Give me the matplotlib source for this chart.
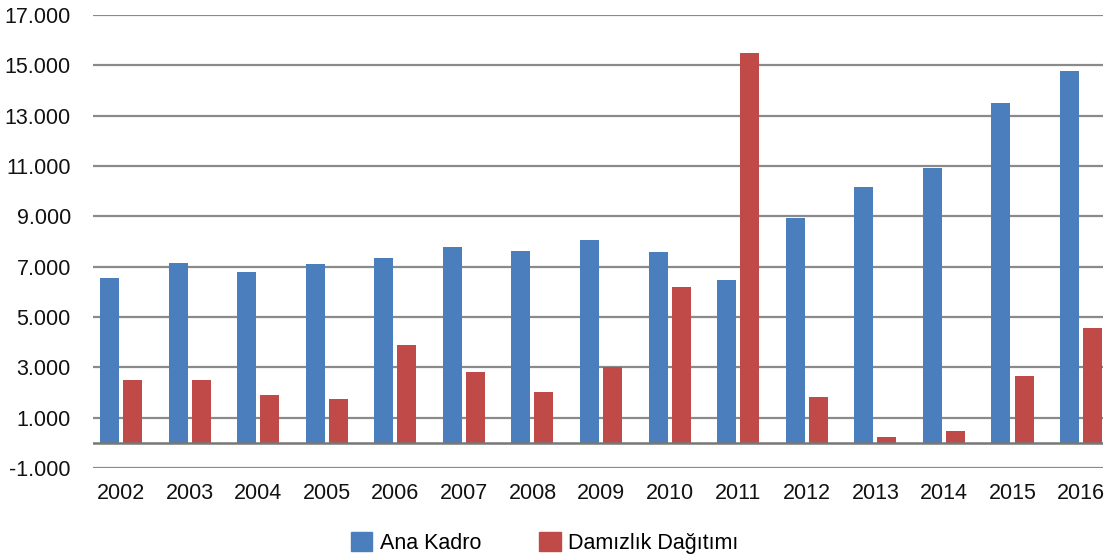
import matplotlib
matplotlib.use("Agg")
import matplotlib.pyplot as plt
import numpy as np
from matplotlib.patches import Patch

years = ["2002", "2003", "2004", "2005", "2006", "2007", "2008", "2009",
         "2010", "2011", "2012", "2013", "2014", "2015", "2016"]
ana_kadro = [6550, 7150, 6800, 7100, 7360, 7800, 7640, 8080,
             7600, 6480, 8950, 10190, 10940, 13490, 14770]
damizlik = [2500, 2500, 1900, 1740, 3890, 2820, 2020, 3020,
            6200, 15490, 1820, 230, 470, 2660, 4570]
yticks = [-1000, 1000, 3000, 5000, 7000, 9000, 11000, 13000, 15000, 17000]
series_names = ["Ana Kadro", "Damızlık Dağıtımı"]

plt.rcParams['font.family'] = ['Liberation Sans', 'DejaVu Sans']

fig = plt.figure(figsize=(11.18, 5.60), dpi=100)
ax = fig.add_axes([0.0832, 0.164, 0.9034, 0.809])

blue = "#4A7EBD"
red = "#BF4A47"
x = np.arange(len(years))
w = 0.277
off = 0.168
ax.bar(x - off, ana_kadro, width=w, color=blue, zorder=3)
ax.bar(x + off, damizlik, width=w, color=red, zorder=3)

ax.set_ylim(-1000, 17000)
ax.set_xlim(-0.408, 14.32)
ax.set_yticks(yticks)
ax.set_yticklabels([f"{v:,}".replace(",", ".") for v in yticks])
ax.set_xticks(x)
ax.set_xticklabels(years)

for v in yticks:
    ax.axhline(v, color="#8a8a8a", lw=1.6, zorder=1)
ax.axhline(0, color="#777777", lw=1.8, zorder=4)

for s in ax.spines.values():
    s.set_visible(False)
ax.tick_params(axis="both", length=0, labelsize=15.5, colors="#111111")
ax.tick_params(axis="y", pad=16)
ax.tick_params(axis="x", pad=11)

handles = [Patch(color=blue), Patch(color=red)]
fig.legend(handles, series_names, loc="center", bbox_to_anchor=(0.487, 0.03),
           ncol=2, frameon=False, fontsize=15.5, handlelength=1.0, handleheight=1.0,
           columnspacing=2.7, handletextpad=0.35)

fig.savefig("out.png", dpi=100)
